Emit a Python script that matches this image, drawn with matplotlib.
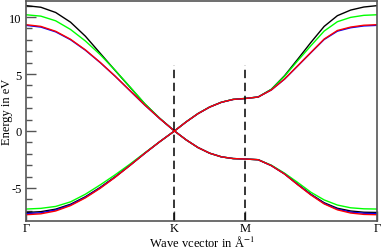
"""
band structure plot, Gamma-K-M-Gamma
"""
import numpy as np
import matplotlib
matplotlib.use("Agg")
import matplotlib.pyplot as plt

plt.rcParams['font.family'] = ['Liberation Serif', 'DejaVu Serif']
plt.rcParams['mathtext.fontset'] = 'stix'

# high symmetry points along the path
kpt_labels = ["Γ", "K", "M", "Γ"]
kpt_pos = [0.0, 1.704, 2.5125, 4.029]

black_up = [11.0, 10.86, 10.4, 9.55, 8.32, 6.82, 5.32, 3.85, 2.38, 1.12, 0.0,
            0.8, 1.52, 2.1, 2.52, 2.77, 2.85,
            2.98, 3.66, 4.85, 6.3, 7.78, 9.18, 10.12, 10.61, 10.88, 11.0]
green_up = [10.2, 10.08, 9.67, 8.91, 7.90, 6.70, 5.34, 3.88, 2.40, 1.13, 0.0,
            0.81, 1.53, 2.11, 2.53, 2.78, 2.86,
            2.98, 3.65, 4.8, 6.17, 7.49, 8.77, 9.59, 9.97, 10.15, 10.2]
blue_up = [9.27, 9.12, 8.70, 8.01, 7.09, 6.0, 4.81, 3.54, 2.27, 1.1, 0.0,
           0.8, 1.52, 2.1, 2.52, 2.77, 2.85,
           2.98, 3.6, 4.55, 5.71, 6.88, 8.03, 8.76, 9.06, 9.22, 9.27]
red_up = [9.33, 9.18, 8.75, 8.05, 7.12, 6.02, 4.82, 3.55, 2.28, 1.1, 0.0,
          0.8, 1.52, 2.1, 2.52, 2.77, 2.85,
          2.98, 3.6, 4.56, 5.73, 6.9, 8.07, 8.82, 9.12, 9.28, 9.33]

black_dn = [-7.15, -7.08, -6.86, -6.43, -5.77, -4.95, -4.02, -3.01, -1.96, -0.95, 0.0,
            -0.78, -1.45, -1.95, -2.27, -2.42, -2.46,
            -2.52, -3.03, -3.76, -4.68, -5.55, -6.3, -6.78, -7.02, -7.13, -7.15]
green_dn = [-6.85, -6.79, -6.62, -6.22, -5.55, -4.73, -3.85, -2.91, -1.92, -0.95, 0.0,
            -0.78, -1.45, -1.95, -2.27, -2.42, -2.46,
            -2.52, -3.0, -3.7, -4.52, -5.38, -6.05, -6.5, -6.74, -6.83, -6.85]
blue_dn = [-7.25, -7.18, -6.94, -6.49, -5.82, -4.99, -4.05, -3.02, -1.96, -0.95, 0.0,
           -0.78, -1.45, -1.95, -2.27, -2.42, -2.46,
           -2.52, -3.04, -3.77, -4.7, -5.59, -6.36, -6.86, -7.12, -7.22, -7.25]
red_dn = [-7.35, -7.27, -7.02, -6.55, -5.87, -5.03, -4.07, -3.03, -1.96, -0.95, 0.0,
          -0.78, -1.45, -1.95, -2.27, -2.42, -2.46,
          -2.52, -3.04, -3.78, -4.72, -5.62, -6.4, -6.92, -7.2, -7.32, -7.35]

# k sampling along the path
k = np.concatenate([np.linspace(kpt_pos[0], kpt_pos[1], 11),
                    np.linspace(kpt_pos[1], kpt_pos[2], 7)[1:],
                    np.linspace(kpt_pos[2], kpt_pos[3], 11)[1:]])

fig = plt.figure(figsize=(3.82, 2.53), dpi=100)
ax = fig.add_axes([0.068, 0.1225, 0.919, 0.8715])

bands = [(black_up, black_dn, "black"), (green_up, green_dn, "#00ff00"),
         (blue_up, blue_dn, "#0000ff"), (red_up, red_dn, "#ff0000")]
for up, dn, col in bands:
    ax.plot(k, up, color=col, lw=1.0)
    ax.plot(k, dn, color=col, lw=1.0)

# dashed markers at K and M
for xp in kpt_pos[1:3]:
    ax.plot([xp, xp], [-7.9, 5.75], color="black", lw=1.1, dashes=(5.5, 3))

ax.set_xlim(kpt_pos[0], kpt_pos[-1])
ax.set_ylim(-7.9, 11.45)
ax.set_xticks(kpt_pos)
ax.set_xticklabels(kpt_labels, fontsize=9)
ax.set_yticks([-5, 0, 5, 10])
ax.set_yticklabels(["-5", "0", "5", "10"], fontsize=9)
ax.set_yticks(np.arange(-7, 12, 1), minor=True)
ax.tick_params(axis='y', which='major', direction='in', length=7, width=1, color='#555555', pad=3)
ax.tick_params(axis='y', which='minor', direction='in', length=4, width=1, color='#555555')
ax.tick_params(axis='x', which='major', direction='in', length=7, width=1, color='#555555', pad=1)

for s in ax.spines.values():
    s.set_color('#555555')
    s.set_linewidth(1.2)

ax.set_ylabel("Energy in eV", fontsize=9, va='center')
ax.yaxis.set_label_coords(-0.055, 0.5)
ax.set_xlabel("Wave vcector in Å$^{-1}$", fontsize=9, va='center')
ax.xaxis.set_label_coords(0.5, -0.097)

fig.savefig("out.png", dpi=100)
